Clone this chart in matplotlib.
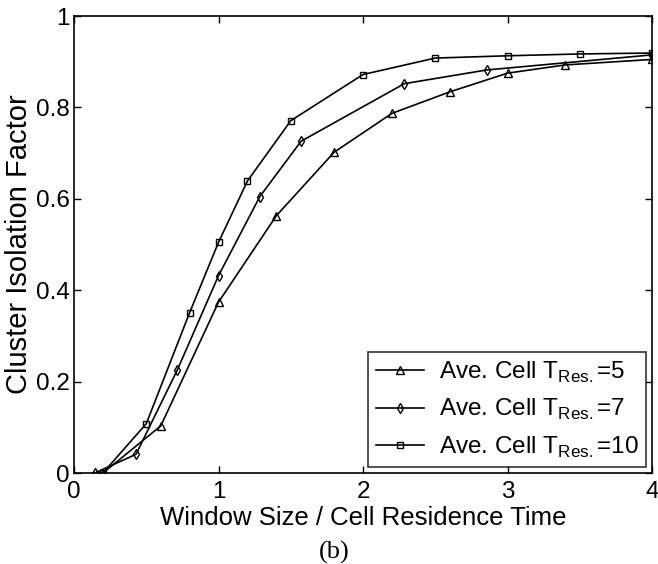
import matplotlib
matplotlib.use("Agg")
import matplotlib.pyplot as plt

plt.rcParams["font.family"] = ["Liberation Sans", "DejaVu Sans"]
plt.rcParams["mathtext.fontset"] = "custom"
plt.rcParams["mathtext.rm"] = "Liberation Sans"

# T_Res = 5 (triangles)
x5 = [0.2, 0.6, 1.0, 1.4, 1.8, 2.2, 2.6, 3.0, 3.4, 4.0]
y5 = [0.0, 0.103, 0.374, 0.563, 0.702, 0.787, 0.834, 0.875, 0.893, 0.905]
# T_Res = 7 (diamonds)
x7 = [0.143, 0.429, 0.714, 1.0, 1.286, 1.571, 2.286, 2.857, 4.0]
y7 = [0.0, 0.041, 0.225, 0.432, 0.605, 0.726, 0.852, 0.882, 0.915]
# T_Res = 10 (squares)
x10 = [0.2, 0.5, 0.8, 1.0, 1.2, 1.5, 2.0, 2.5, 3.0, 3.5, 4.0]
y10 = [0.0, 0.108, 0.351, 0.505, 0.639, 0.771, 0.872, 0.908, 0.913, 0.917, 0.919]

labels = [r"Ave. Cell T$_{\mathrm{Res.}}$=5",
          r"Ave. Cell T$_{\mathrm{Res.}}$=7",
          r"Ave. Cell T$_{\mathrm{Res.}}$=10"]

xticks = [0, 1, 2, 3, 4]
yticks = [0, 0.2, 0.4, 0.6, 0.8, 1]
yticklabels = ["0", "0.2", "0.4", "0.6", "0.8", "1"]

fig = plt.figure(figsize=(6.58, 5.64), dpi=100)
ax = fig.add_axes([0.1125, 0.1613, 0.8785, 0.8103])

ax.plot(x5, y5, color="black", lw=1.2, marker="^", ms=5.5, mfc="none", mec="black", label=labels[0])
ax.plot(x7, y7, color="black", lw=1.2, marker="d", ms=5.5, mfc="none", mec="black", label=labels[1])
ax.plot(x10, y10, color="black", lw=1.2, marker="s", ms=4.8, mfc="none", mec="black", label=labels[2])

ax.set_xlim(0, 4)
ax.set_ylim(0, 1)
ax.set_xticks(xticks)
ax.set_xticklabels([str(t) for t in xticks])
ax.set_yticks(yticks)
ax.set_yticklabels(yticklabels)
ax.tick_params(direction="in", top=True, right=True, labelsize=17.5, length=5, width=1)
ax.tick_params(axis="x", pad=6)
ax.tick_params(axis="y", pad=3)
for s in ax.spines.values():
    s.set_linewidth(1.2)

ax.set_xlabel("Window Size / Cell Residence Time", fontsize=18.5, labelpad=2)
ax.set_ylabel("Cluster Isolation Factor", fontsize=21, labelpad=2)

leg = ax.legend(loc="lower right", fontsize=17.5, frameon=True, fancybox=False,
                edgecolor="black", handlelength=2.0, handletextpad=0.6,
                borderaxespad=0.25, labelspacing=0.5, borderpad=0.3)
leg.get_frame().set_linewidth(1.2)

fig.text(0.508, 0.02, "(b)", fontsize=19, family="Liberation Serif", ha="center", va="center")

fig.savefig("out.png", dpi=100)
